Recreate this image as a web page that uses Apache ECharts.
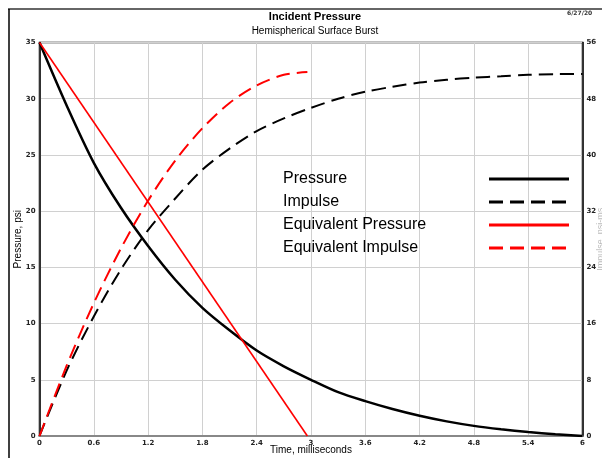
<!DOCTYPE html>
<html>
<head>
<meta charset="utf-8">
<script src="https://cdn.jsdelivr.net/npm/echarts@6/dist/echarts.min.js"></script>
<style>html,body{margin:0;padding:0;background:#fff}#c{width:602px;height:458px}</style>
</head>
<body>
<div id="c"></div>
<script>
var seriesNames = ['Pressure', 'Impulse', 'Equivalent Pressure', 'Equivalent Impulse'];
var time = [0, 0.3, 0.6, 0.9, 1.2, 1.5, 1.8, 2.1, 2.4, 2.7, 3.0, 3.3, 3.6, 3.9, 4.2, 4.5, 4.8, 5.1, 5.4, 5.7, 6.0];
var pressure = [35, 29.4, 24.3, 20.3, 16.9, 13.9, 11.4, 9.4, 7.6, 6.2, 5.0, 3.9, 3.1, 2.4, 1.8, 1.3, 0.9, 0.6, 0.35, 0.15, 0];
var impulse = [0, 9.3, 17.0, 23.7, 29.3, 33.8, 37.9, 40.9, 43.4, 45.2, 46.7, 48.0, 49.0, 49.7, 50.3, 50.7, 51.0, 51.2, 51.4, 51.5, 51.5];
var eqPressureTime = [0, 2.96];
var eqPressure = [35, 0];
var eqImpulseTime = [0, 0.3, 0.6, 0.9, 1.2, 1.5, 1.8, 2.1, 2.4, 2.7, 2.96];
var eqImpulse = [0, 10.0, 18.9, 26.7, 33.5, 39.2, 43.8, 47.4, 49.9, 51.4, 51.8];
var pressureTicks = {min: 0, max: 35, interval: 5};
var impulseTicks = {min: 0, max: 56, interval: 8};
var timeTicks = {min: 0, max: 6, interval: 0.6};

function pairs(xs, ys) { return xs.map(function (x, i) { return [x, ys[i]]; }); }
var fmt = function (v) { return String(parseFloat(v.toFixed(1))); };
var tickFont = {fontSize: 7, color: '#222', fontFamily: 'DejaVu Sans', fontWeight: 'bold'};

var chart = echarts.init(document.getElementById('c'), null, {renderer: 'canvas'});
chart.setOption({
  animation: false,
  backgroundColor: '#fff',
  title: [
    {text: 'Incident Pressure', left: 310, top: 6, textAlign: 'center',
     textStyle: {fontSize: 11, fontWeight: 'bold', color: '#000', fontFamily: 'Liberation Sans'}},
    {text: 'Hemispherical Surface Burst', left: 310, top: 21, textAlign: 'center',
     textStyle: {fontSize: 10, fontWeight: 'normal', color: '#000', fontFamily: 'Liberation Sans'}}
  ],
  graphic: [
    {type: 'line', shape: {x1: 8, y1: 9, x2: 602, y2: 9}, style: {stroke: '#666', lineWidth: 2}},
    {type: 'line', shape: {x1: 9, y1: 9, x2: 9, y2: 458}, style: {stroke: '#000', lineWidth: 1.5}},
    {type: 'text', left: 567, top: 10, style: {text: '6/27/20', fontSize: 6, fontWeight: 'bold', fill: '#333', fontFamily: 'DejaVu Sans'}}
  ],
  legend: {
    data: seriesNames,
    orient: 'vertical',
    left: 278, top: 166,
    align: 'right',
    itemWidth: 80, itemHeight: 14, itemGap: 7,
    itemStyle: {opacity: 0},
    lineStyle: {width: 3},
    formatter: function (name) { return '{a|' + name + '}'; },
    textStyle: {
      fontSize: 16, color: '#000', fontFamily: 'Liberation Sans',
      rich: {a: {width: 201, align: 'left', fontSize: 16, lineHeight: 18, color: '#000', fontFamily: 'Liberation Sans'}}
    },
    selectedMode: false
  },
  grid: {left: 39.5, right: 19.5, top: 42.5, bottom: 22, show: true, borderColor: '#000', borderWidth: 1.5,
         containLabel: false, outerBoundsMode: 'none'},
  xAxis: {
    type: 'value', min: timeTicks.min, max: timeTicks.max, interval: timeTicks.interval,
    name: 'Time, milliseconds', nameLocation: 'middle', nameGap: 9, nameMoveOverlap: false,
    nameTextStyle: {fontSize: 10, color: '#000', fontFamily: 'Liberation Sans'},
    axisLine: {show: true, lineStyle: {color: '#888', width: 2}},
    axisTick: {show: false},
    axisLabel: Object.assign({formatter: fmt, margin: 4}, tickFont),
    splitLine: {show: true, lineStyle: {color: '#d0d0d0', width: 1}}
  },
  yAxis: [
    {
      type: 'value', min: pressureTicks.min, max: pressureTicks.max, interval: pressureTicks.interval,
      name: 'Pressure, psi', nameLocation: 'middle', nameGap: 16, nameMoveOverlap: false,
      nameTextStyle: {fontSize: 10, color: '#000', fontFamily: 'Liberation Sans'},
      axisLine: {show: true, lineStyle: {color: '#000', width: 1.5}},
      axisTick: {show: false},
      axisLabel: Object.assign({margin: 4}, tickFont),
      splitLine: {show: true, lineStyle: {color: '#d0d0d0', width: 1}}
    },
    {
      type: 'value', min: impulseTicks.min, max: impulseTicks.max, interval: impulseTicks.interval,
      position: 'right',
      name: 'Impulse, psi-ms', nameLocation: 'middle', nameGap: 14, nameMoveOverlap: false,
      nameTextStyle: {fontSize: 9, color: '#bbb', fontFamily: 'Liberation Sans'},
      axisLine: {show: true, lineStyle: {color: '#000', width: 1.5}},
      axisTick: {show: false},
      axisLabel: Object.assign({margin: 4}, tickFont),
      splitLine: {show: false}
    }
  ],
  series: [
    {name: seriesNames[0], type: 'line', yAxisIndex: 0, data: pairs(time, pressure), smooth: 0.3,
     symbol: 'none', lineStyle: {color: '#000', width: 2.5}, itemStyle: {color: '#000'}},
    {name: seriesNames[1], type: 'line', yAxisIndex: 1, data: pairs(time, impulse), smooth: 0.3,
     symbol: 'none', lineStyle: {color: '#000', width: 2, type: [14, 7]}, itemStyle: {color: '#000'}},
    {name: seriesNames[2], type: 'line', yAxisIndex: 0, data: pairs(eqPressureTime, eqPressure),
     symbol: 'none', lineStyle: {color: '#ff0000', width: 1.6}, itemStyle: {color: '#ff0000'}},
    {name: seriesNames[3], type: 'line', yAxisIndex: 1, data: pairs(eqImpulseTime, eqImpulse), smooth: 0.3,
     symbol: 'none', lineStyle: {color: '#ff0000', width: 2, type: [14, 7]}, itemStyle: {color: '#ff0000'}}
  ]
});
</script>
</body>
</html>
